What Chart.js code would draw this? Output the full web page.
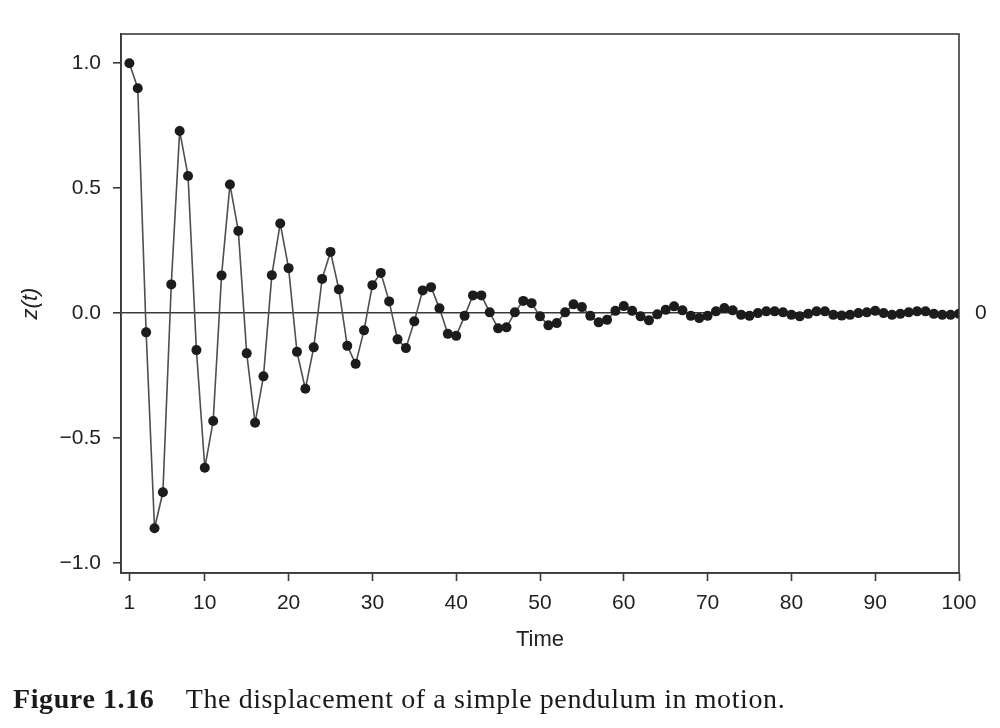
<!DOCTYPE html>
<html>
<head>
<meta charset="utf-8">
<script src="https://cdn.jsdelivr.net/npm/chart.js@4.4.1/dist/chart.umd.min.js"></script>
<style>
  html, body { margin: 0; padding: 0; background: #fff; }
  #wrap { position: relative; width: 1000px; height: 728px; }
  #caption {
    position: absolute; left: 13px; top: 683px;
    font-family: "Liberation Serif", "DejaVu Serif", serif;
    font-size: 28px; letter-spacing: 0.6px; color: #1a1a1a; white-space: pre;
  }
  #caption b { font-weight: bold; margin-right: 9px; }
</style>
</head>
<body>
<div id="wrap">
  <canvas id="chart" width="1000" height="728"></canvas>
  <div id="caption"><b>Figure 1.16</b>   The displacement of a simple pendulum in motion.</div>
</div>
<script>
// time index and displacement
var times = [];
for (var t = 1; t <= 100; t++) times.push(t);

var displacement = [
  1.0, 0.90, -0.077, -0.861, -0.717, 0.115, 0.729, 0.549, -0.148, -0.619,
  -0.432, 0.151, 0.515, 0.329, -0.161, -0.439, -0.253, 0.152, 0.359, 0.180,
  -0.155, -0.303, -0.137, 0.137, 0.245, 0.095, -0.131, -0.203, -0.069, 0.112,
  0.161, 0.047, -0.105, -0.140, -0.033, 0.091, 0.104, 0.019, -0.083, -0.091,
  -0.011, 0.071, 0.071, 0.003, -0.061, -0.057, 0.003, 0.049, 0.040, -0.013,
  -0.049, -0.040, 0.003, 0.035, 0.024, -0.011, -0.037, -0.027, 0.009, 0.028,
  0.009, -0.013, -0.029, -0.005, 0.013, 0.027, 0.011, -0.011, -0.020, -0.011,
  0.007, 0.020, 0.011, -0.007, -0.011, 0.0, 0.007, 0.007, 0.003, -0.007,
  -0.013, -0.003, 0.007, 0.007, -0.007, -0.010, -0.007, 0.0, 0.003, 0.009,
  0.0, -0.007, -0.003, 0.003, 0.007, 0.007, -0.003, -0.007, -0.007, -0.003
];

var xTicks = [1, 10, 20, 30, 40, 50, 60, 70, 80, 90, 100];
var yTicks = [-1.0, -0.5, 0.0, 0.5, 1.0];
var rightTicks = [0];

var points = times.map(function(t, i) { return { x: t, y: displacement[i] }; });

var axisColor = '#3a3a3a';
var tickFont = { family: 'Liberation Sans, Arial, sans-serif', size: 21 };

// box round the plot area (top and right sides)
var frame = {
  id: 'frame',
  afterDraw: function(chart) {
    var a = chart.chartArea, ctx = chart.ctx;
    ctx.save();
    ctx.strokeStyle = axisColor;
    ctx.lineWidth = 1.6;
    ctx.strokeRect(a.left, a.top, a.right - a.left, a.bottom - a.top);
    ctx.restore();
  }
};

var ctx = document.getElementById('chart').getContext('2d');
new Chart(ctx, {
  type: 'line',
  data: {
    datasets: [{
      label: 'z(t)',
      data: points,
      borderColor: '#4f4f4f',
      borderWidth: 1.6,
      pointRadius: 5,
      pointBackgroundColor: '#1c1c1c',
      pointBorderColor: '#1c1c1c',
      pointBorderWidth: 0,
      tension: 0
    }]
  },
  plugins: [frame],
  options: {
    responsive: false,
    animation: false,
    layout: { padding: { top: 34, left: 0, right: 0, bottom: 65 } },
    plugins: { legend: { display: false }, tooltip: { enabled: false } },
    scales: {
      x: {
        type: 'linear',
        min: 0,
        max: 100,
        afterBuildTicks: function(scale) {
          scale.ticks = xTicks.map(function(v) { return { value: v }; });
        },
        afterFit: function(scale) { scale.height = 90; },
        grid: { display: true, drawOnChartArea: false, tickLength: 8, tickColor: axisColor, tickWidth: 1.6 },
        border: { display: true, color: axisColor, width: 1.6 },
        ticks: { color: '#222', font: tickFont, padding: 10, maxRotation: 0, autoSkip: false },
        title: { display: true, text: 'Time', color: '#222', font: { family: 'Liberation Sans, Arial, sans-serif', size: 22 }, padding: { top: 4, bottom: 10 } }
      },
      y: {
        type: 'linear',
        position: 'left',
        min: -1.04,
        max: 1.117,
        afterBuildTicks: function(scale) {
          scale.ticks = yTicks.map(function(v) { return { value: v }; });
        },
        afterFit: function(scale) { scale.width = 121; },
        grid: {
          drawOnChartArea: true,
          color: function(c) { return c.tick && c.tick.value === 0 ? axisColor : 'rgba(0,0,0,0)'; },
          lineWidth: 1.6,
          tickLength: 8, tickColor: axisColor, tickWidth: 1.6
        },
        border: { display: true, color: axisColor, width: 1.6 },
        ticks: {
          color: '#222', font: tickFont, padding: 12,
          callback: function(v) { return v.toFixed(1).replace('-', '\u2212'); }
        },
        title: { display: true, text: 'z(t)', color: '#222', font: { family: 'Liberation Sans, Arial, sans-serif', size: 22, style: 'italic' }, padding: { top: 18, bottom: 0 } }
      },
      y2: {
        type: 'linear',
        position: 'right',
        min: -1.04,
        max: 1.117,
        afterBuildTicks: function(scale) {
          scale.ticks = rightTicks.map(function(v) { return { value: v }; });
        },
        afterFit: function(scale) { scale.width = 41; },
        grid: { display: false },
        border: { display: false },
        ticks: { color: '#222', font: tickFont, padding: 8, callback: function(v) { return String(v); } }
      }
    }
  }
});
</script>
</body>
</html>
